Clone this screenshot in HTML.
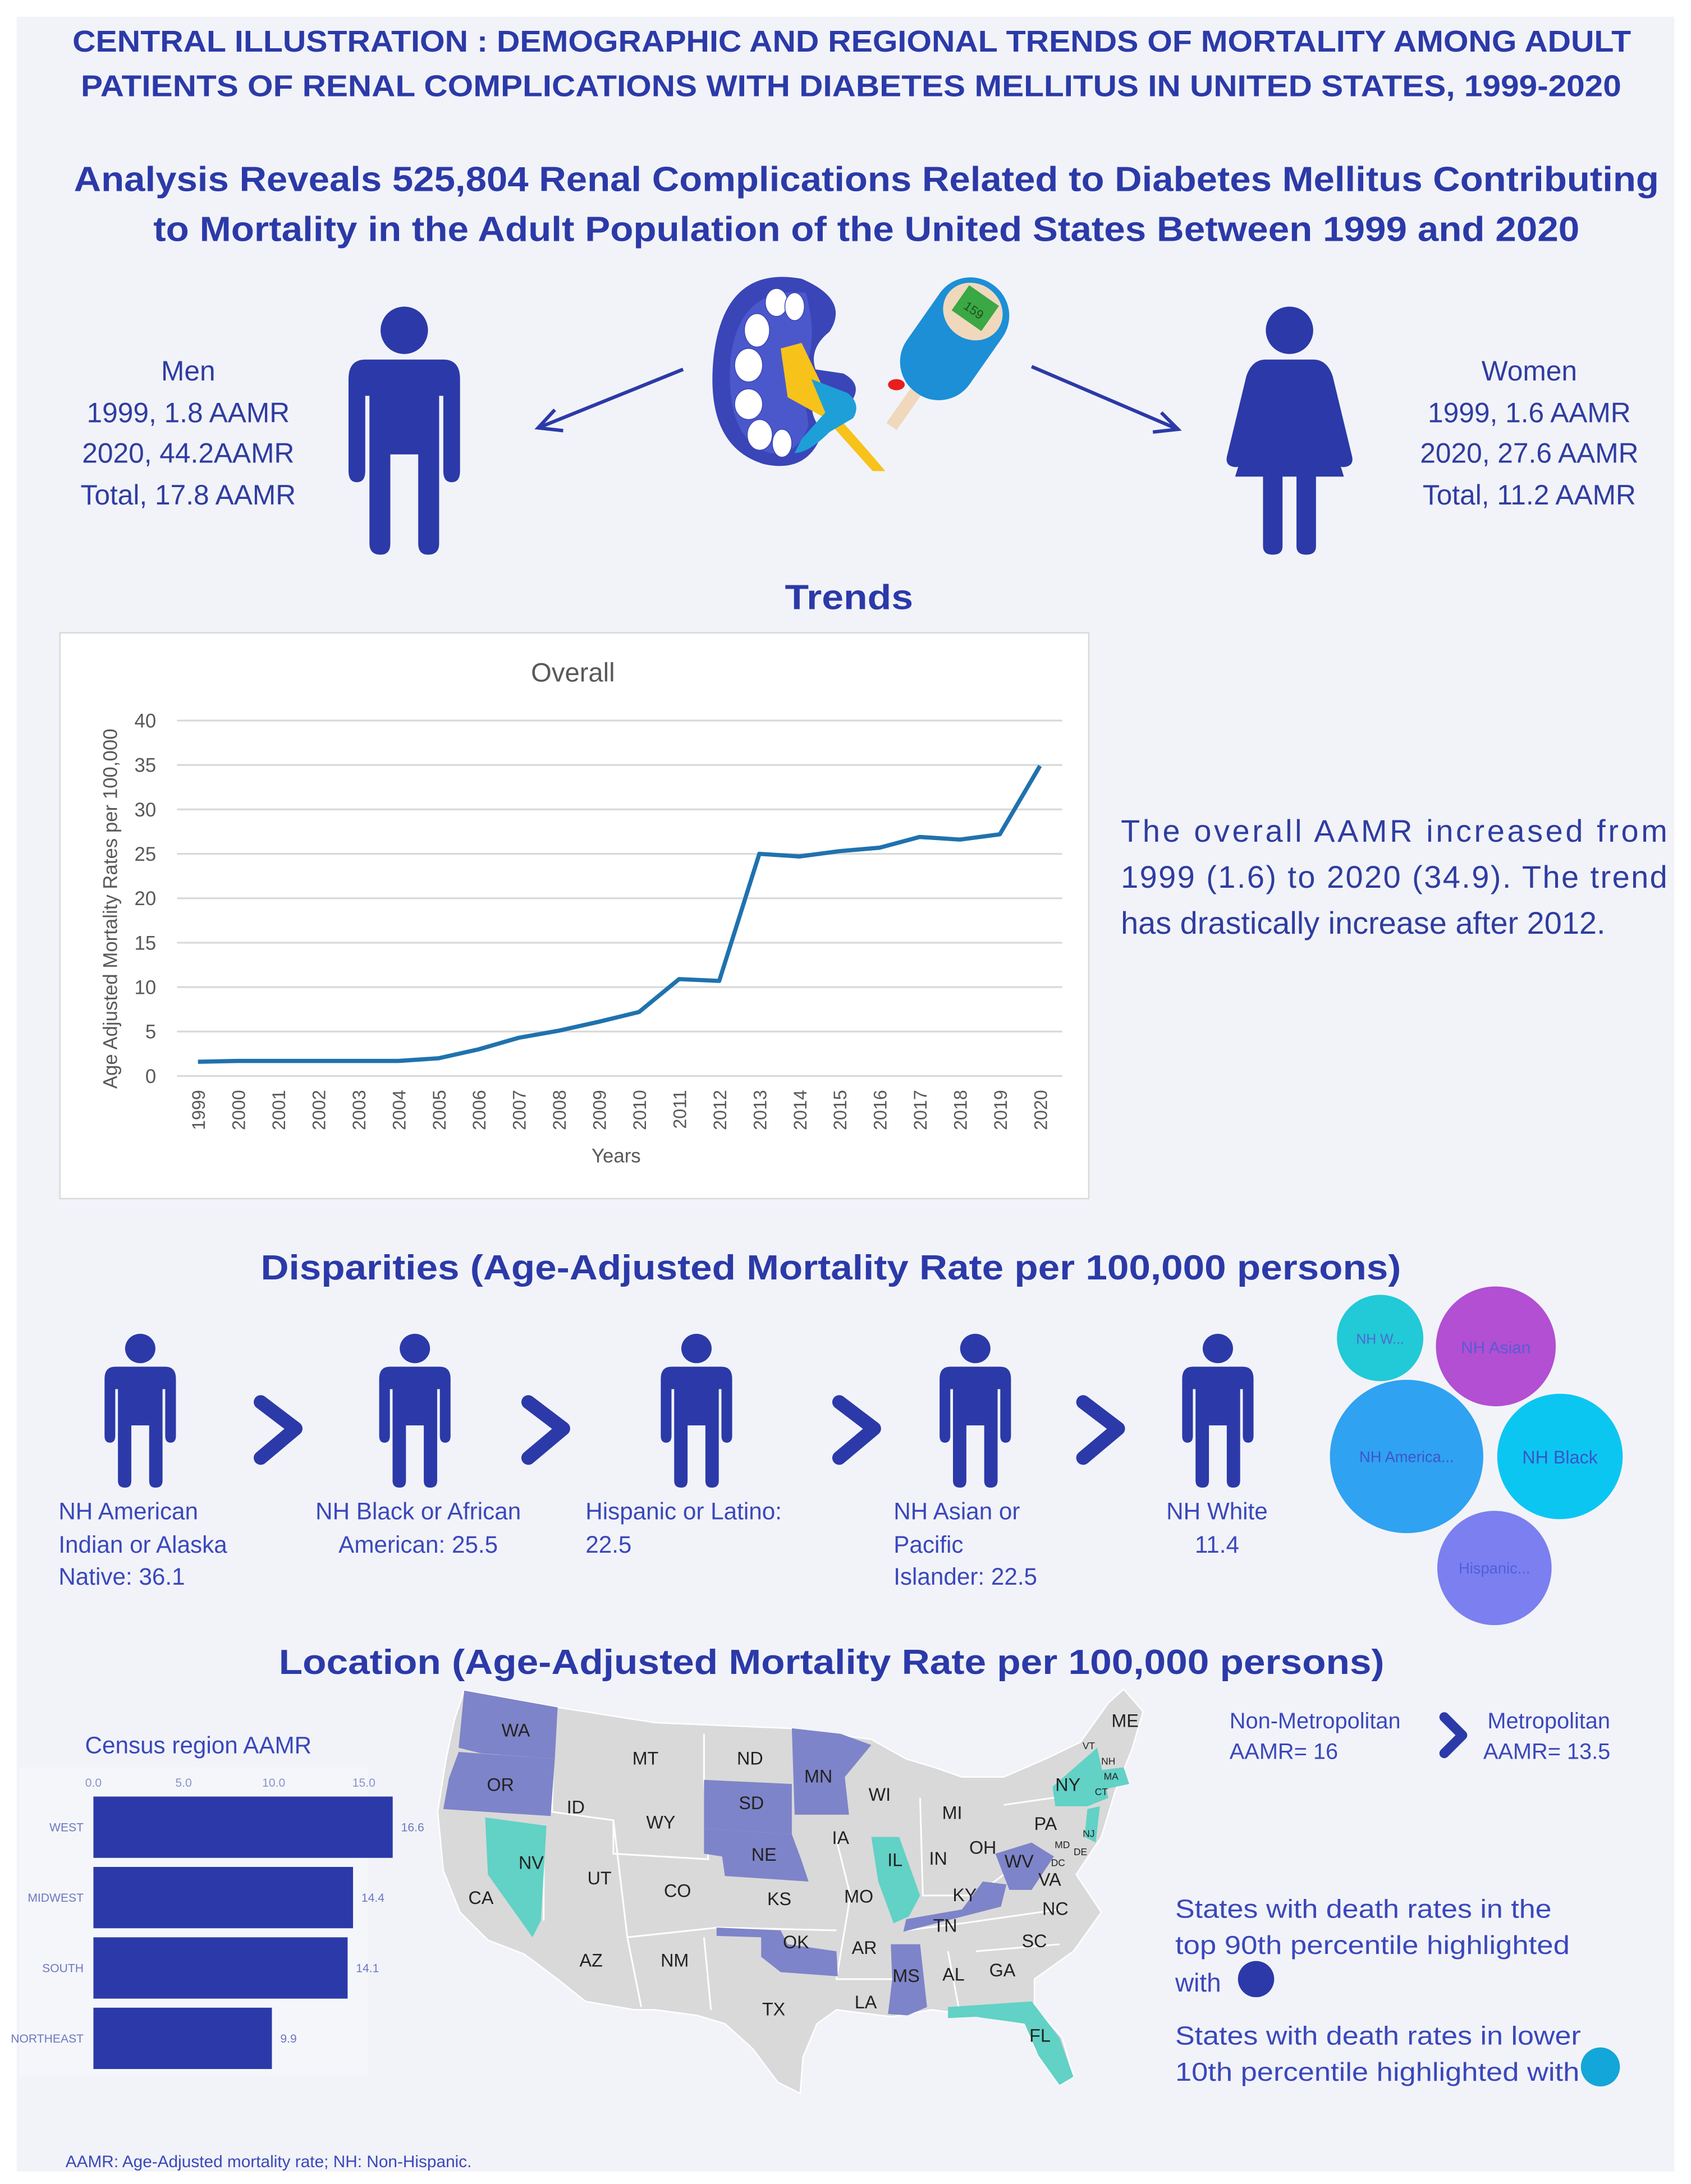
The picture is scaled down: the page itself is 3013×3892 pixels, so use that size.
<!DOCTYPE html>
<html><head><meta charset="utf-8"><style>
html,body{margin:0;padding:0;background:#fff;}
svg{display:block;font-family:"Liberation Sans",sans-serif;}
</style></head><body>
<svg id="page" width="3013" height="3892" viewBox="0 0 1213 1567" preserveAspectRatio="none" xmlns="http://www.w3.org/2000/svg">
<rect x="0" y="0" width="1213" height="1567" fill="#ffffff"/>
<rect x="12" y="12" width="1189" height="1546" fill="#f2f3f9"/>

<g fill="#2b3aa8" font-weight="bold" font-size="21.5">
<text x="52" y="37" textLength="1118" lengthAdjust="spacingAndGlyphs">CENTRAL ILLUSTRATION : DEMOGRAPHIC AND REGIONAL TRENDS OF MORTALITY AMONG ADULT</text>
<text x="58" y="69" textLength="1105" lengthAdjust="spacingAndGlyphs">PATIENTS OF RENAL COMPLICATIONS WITH DIABETES MELLITUS IN UNITED STATES, 1999-2020</text>
</g>
<g fill="#2b3aa8" font-weight="bold" font-size="25">
<text x="53" y="137" textLength="1137" lengthAdjust="spacingAndGlyphs">Analysis Reveals 525,804 Renal Complications Related to Diabetes Mellitus Contributing</text>
<text x="110" y="173" textLength="1023" lengthAdjust="spacingAndGlyphs">to Mortality in the Adult Population of the United States Between 1999 and 2020</text>
</g>

<g fill="#2f3da0" font-size="20" text-anchor="middle">
<text x="135" y="273">Men</text><text x="135" y="303">1999, 1.8 AAMR</text><text x="135" y="332">2020,  44.2AAMR</text><text x="135" y="362">Total, 17.8 AAMR</text>
</g>
<g fill="#2f3da0" font-size="20" text-anchor="middle">
<text x="1097" y="273">Women</text><text x="1097" y="303">1999, 1.6 AAMR</text><text x="1097" y="332">2020, 27.6 AAMR</text><text x="1097" y="362">Total, 11.2 AAMR</text>
</g>

<g fill="#2b3aa8" transform="translate(250,220)">
<circle cx="40" cy="17" r="17"/>
<path d="M12,38 H68 Q80,38 80,52 V118 Q80,126 74,126 Q68,126 68,118 V64 H65 V170 Q65,178 57,178 Q50,178 50,170 V106 H30 V170 Q30,178 23,178 Q15,178 15,170 V64 H12 V118 Q12,126 6,126 Q0,126 0,118 V52 Q0,38 12,38 Z"/>
</g>
<g fill="#2b3aa8" transform="translate(880,220)">
<circle cx="45" cy="17" r="17"/>
<path d="M28,38 H62 Q72,38 76,50 L90,108 Q91,114 85,115 Q80,116 78,110 L68,70 L84,122 H64 V172 Q64,178 57,178 Q50,178 50,172 V122 H40 V172 Q40,178 33,178 Q26,178 26,172 V122 H6 L22,70 L12,110 Q10,116 5,115 Q-1,114 0,108 L14,50 Q18,38 28,38 Z"/>
</g>

<g stroke="#2b3aa8" stroke-width="2.5" fill="none">
<line x1="490" y1="265" x2="386" y2="307"/><polyline points="398,294 386,307 404,309"/>
</g>
<g stroke="#2b3aa8" stroke-width="2.5" fill="none">
<line x1="740" y1="263" x2="845" y2="308"/><polyline points="827,310 845,308 833,296"/>
</g>

<g>
<path d="M575,200 Q520,190 512,255 Q505,320 548,333 Q580,340 590,310 Q575,290 590,280 L612,286 Q618,275 605,268 L585,265 Q580,250 595,238 Q610,215 575,200 Z" fill="#3a45b8"/>
<path d="M578,210 Q530,205 524,258 Q520,315 552,325 Q572,328 580,305 L575,270 Q588,245 578,210 Z" fill="#4a58cc"/>
<g fill="#ffffff" stroke="#3a45b8" stroke-width="0.6">
<ellipse cx="557" cy="217" rx="8" ry="10"/><ellipse cx="570" cy="220" rx="7" ry="10"/>
<ellipse cx="543" cy="237" rx="9" ry="12"/><ellipse cx="537" cy="262" rx="10" ry="12"/>
<ellipse cx="537" cy="290" rx="10" ry="11"/><ellipse cx="545" cy="312" rx="9" ry="11"/><ellipse cx="561" cy="318" rx="7" ry="10"/>
</g>
<path d="M560,250 L575,246 L600,298 Q620,320 635,338 L626,338 Q608,318 592,300 L565,285 Z" fill="#f7c21a"/>
<path d="M582,272 L608,282 Q618,290 612,300 L595,310 Q580,325 570,325 L575,315 L592,296 Z" fill="#1e9fd8"/>
<g transform="rotate(35 690 240)">
<rect x="660" y="198" width="55" height="95" rx="27" fill="#1c8fd6"/>
<ellipse cx="687" cy="222" rx="22" ry="20" fill="#f0d8bd"/>
<rect x="674" y="208" width="26" height="22" fill="#3aa844"/>
<text x="687" y="224" font-size="9" text-anchor="middle" fill="#1f4f20">159</text>
<rect x="682" y="293" width="9" height="30" fill="#f0d8bd"/>
</g>
<ellipse cx="643" cy="276" rx="6" ry="4" fill="#e81e1e"/>
</g>

<text x="563" y="437" textLength="92" lengthAdjust="spacingAndGlyphs" font-size="25" font-weight="bold" fill="#2b3aa8">Trends</text>

<g id="chart">
<rect x="43" y="454" width="738" height="406" fill="#ffffff" stroke="#d9d9d9" stroke-width="1"/>
<text x="411" y="489" text-anchor="middle" font-size="19" fill="#595959">Overall</text>
<text transform="translate(84,652) rotate(-90)" text-anchor="middle" font-size="14" fill="#595959">Age Adjusted Mortality Rates per 100,000</text>
<text x="442" y="834" text-anchor="middle" font-size="14" fill="#595959">Years</text>
<g id="grid"></g><g id="ylabels"></g><g id="xlabels"></g><g id="series"></g>
</g>

<g fill="#2f3da0" font-size="22.5">
<text x="804" y="604" textLength="392" lengthAdjust="spacing">The overall AAMR increased from</text>
<text x="804" y="637" textLength="392" lengthAdjust="spacing">1999 (1.6) to 2020 (34.9). The trend</text>
<text x="804" y="670">has drastically increase after 2012.</text>
</g>

<text x="187" y="918" textLength="818" lengthAdjust="spacingAndGlyphs" font-size="25" font-weight="bold" fill="#2b3aa8">Disparities (Age-Adjusted Mortality Rate per 100,000 persons)</text>

<g fill="#2b3aa8">
<g transform="translate(75,957) scale(0.64,0.62)"><circle cx="40" cy="17" r="17"/><path d="M12,38 H68 Q80,38 80,52 V118 Q80,126 74,126 Q68,126 68,118 V64 H65 V170 Q65,178 57,178 Q50,178 50,170 V106 H30 V170 Q30,178 23,178 Q15,178 15,170 V64 H12 V118 Q12,126 6,126 Q0,126 0,118 V52 Q0,38 12,38 Z"/></g>
<g transform="translate(272,957) scale(0.64,0.62)"><circle cx="40" cy="17" r="17"/><path d="M12,38 H68 Q80,38 80,52 V118 Q80,126 74,126 Q68,126 68,118 V64 H65 V170 Q65,178 57,178 Q50,178 50,170 V106 H30 V170 Q30,178 23,178 Q15,178 15,170 V64 H12 V118 Q12,126 6,126 Q0,126 0,118 V52 Q0,38 12,38 Z"/></g>
<g transform="translate(474,957) scale(0.64,0.62)"><circle cx="40" cy="17" r="17"/><path d="M12,38 H68 Q80,38 80,52 V118 Q80,126 74,126 Q68,126 68,118 V64 H65 V170 Q65,178 57,178 Q50,178 50,170 V106 H30 V170 Q30,178 23,178 Q15,178 15,170 V64 H12 V118 Q12,126 6,126 Q0,126 0,118 V52 Q0,38 12,38 Z"/></g>
<g transform="translate(674,957) scale(0.64,0.62)"><circle cx="40" cy="17" r="17"/><path d="M12,38 H68 Q80,38 80,52 V118 Q80,126 74,126 Q68,126 68,118 V64 H65 V170 Q65,178 57,178 Q50,178 50,170 V106 H30 V170 Q30,178 23,178 Q15,178 15,170 V64 H12 V118 Q12,126 6,126 Q0,126 0,118 V52 Q0,38 12,38 Z"/></g>
<g transform="translate(848,957) scale(0.64,0.62)"><circle cx="40" cy="17" r="17"/><path d="M12,38 H68 Q80,38 80,52 V118 Q80,126 74,126 Q68,126 68,118 V64 H65 V170 Q65,178 57,178 Q50,178 50,170 V106 H30 V170 Q30,178 23,178 Q15,178 15,170 V64 H12 V118 Q12,126 6,126 Q0,126 0,118 V52 Q0,38 12,38 Z"/></g>
</g>
<g fill="none" stroke="#2b3aa8" stroke-width="10" stroke-linecap="round" stroke-linejoin="round">
<polyline points="187,1006 212,1025 187,1046"/><polyline points="379,1006 404,1025 379,1046"/>
<polyline points="602,1006 627,1025 602,1046"/><polyline points="777,1006 802,1025 777,1046"/>
</g>
<g fill="#3a48bb" font-size="17">
<text x="42" y="1090">NH American</text><text x="42" y="1114">Indian or Alaska</text><text x="42" y="1137">Native: 36.1</text>
<text x="300" y="1090" text-anchor="middle">NH Black or African</text><text x="300" y="1114" text-anchor="middle">American: 25.5</text>
<text x="420" y="1090">Hispanic or Latino:</text><text x="420" y="1114">22.5</text>
<text x="641" y="1090">NH Asian or</text><text x="641" y="1114">Pacific</text><text x="641" y="1137">Islander: 22.5</text>
<text x="873" y="1090" text-anchor="middle">NH White</text><text x="873" y="1114" text-anchor="middle">11.4</text>
</g>
<g font-size="12" text-anchor="middle">
<circle cx="990" cy="960" r="31" fill="#22c9d6"/><text x="990" y="964" fill="#4c6ad0" font-size="10">NH W...</text>
<circle cx="1073" cy="966" r="43" fill="#b24fd2"/><text x="1073" y="971" fill="#5a5ad6">NH Asian</text>
<circle cx="1009" cy="1045" r="55" fill="#2fa2f2"/><text x="1009" y="1049" fill="#3f55c8" font-size="11">NH America...</text>
<circle cx="1119" cy="1045" r="45" fill="#0cc6f2"/><text x="1119" y="1050" fill="#3a55c8" font-size="13">NH Black</text>
<circle cx="1072" cy="1125" r="41" fill="#7b7ff0"/><text x="1072" y="1129" fill="#5060d8" font-size="11">Hispanic...</text>
</g>

<text x="200" y="1201" textLength="793" lengthAdjust="spacingAndGlyphs" font-size="25" font-weight="bold" fill="#2b3aa8">Location (Age-Adjusted Mortality Rate per 100,000 persons)</text>

<g>
<rect x="14" y="1268" width="250" height="222" fill="#f5f6fa"/>
<text x="61" y="1258" font-size="17" fill="#3a48bb">Census region AAMR</text>
<g id="barticks"></g><g id="bars"></g>
</g>

<g>
<polygon fill="#d9d9d9" stroke="#ffffff" stroke-width="1" points="333,1213 400,1225 470,1236 565,1240 625,1248 650,1262 670,1268 690,1275 720,1275 750,1262 775,1250 795,1222 806,1212 820,1228 812,1255 800,1285 790,1318 772,1345 790,1372 770,1400 742,1420 742,1440 762,1462 770,1490 760,1496 745,1475 735,1452 700,1446 668,1442 640,1447 600,1442 586,1452 576,1476 574,1502 558,1494 540,1470 520,1452 500,1446 470,1442 455,1442 420,1436 400,1420 376,1402 350,1392 330,1372 318,1342 314,1300 320,1262 326,1234"/>
<g stroke="#ffffff" stroke-width="1.2" fill="none">
<polyline points="398,1226 396,1300 440,1306 440,1330 508,1334 505,1277 505,1244"/>
<polyline points="390,1310 390,1378"/><polyline points="440,1306 450,1390 515,1383 600,1385"/>
<polyline points="450,1390 460,1440"/><polyline points="505,1390 510,1442"/>
<polyline points="600,1320 610,1360 600,1420 640,1420"/><polyline points="660,1290 662,1360 700,1360 740,1330"/>
<polyline points="650,1385 690,1380 760,1370"/><polyline points="680,1400 688,1442"/><polyline points="700,1400 760,1395"/>
<polyline points="720,1295 790,1285"/>
</g>
<g fill="#7e84c9">
<polygon points="333,1213 400,1225 398,1262 345,1258 329,1254"/>
<polygon points="329,1257 398,1262 395,1303 318,1298 322,1276"/>
<polygon points="568,1240 603,1244 625,1252 606,1275 609,1302 570,1302"/>
<polygon points="505,1277 568,1280 568,1316 505,1312"/>
<polygon points="505,1312 568,1316 575,1335 580,1350 520,1346 518,1332 505,1330"/>
<polygon points="650,1377 690,1370 705,1350 722,1352 718,1368 648,1386"/>
<polygon points="714,1330 740,1322 756,1332 740,1356 724,1356"/>
<polygon points="514,1383 560,1385 565,1395 600,1400 601,1418 560,1415 546,1404 546,1390 514,1389"/>
<polygon points="639,1395 660,1395 665,1440 651,1446 637,1445 640,1420"/>
</g>
<g fill="#62d1c6">
<polygon points="348,1304 392,1310 388,1378 382,1390 350,1345"/>
<polygon points="625,1318 645,1318 660,1360 652,1375 641,1380 630,1350"/>
<polygon points="755,1282 787,1254 795,1290 780,1296 757,1296"/>
<polygon points="790,1270 806,1268 810,1280 791,1284"/>
<polygon points="780,1298 789,1296 786,1322 778,1318"/>
<polygon points="680,1440 740,1436 760,1462 770,1490 760,1496 745,1475 735,1452 700,1447 680,1448"/>
</g>
<g font-size="13" text-anchor="middle" fill="#222">
<text x="370" y="1246">WA</text><text x="359" y="1285">OR</text><text x="413" y="1301">ID</text><text x="463" y="1266">MT</text><text x="538" y="1266">ND</text><text x="587" y="1279">MN</text><text x="631" y="1292">WI</text><text x="539" y="1298">SD</text><text x="474" y="1312">WY</text><text x="548" y="1335">NE</text><text x="603" y="1323">IA</text><text x="683" y="1305">MI</text><text x="766" y="1285">NY</text><text x="750" y="1313">PA</text><text x="705" y="1330">OH</text><text x="673" y="1338">IN</text><text x="642" y="1339">IL</text><text x="381" y="1341">NV</text><text x="430" y="1352">UT</text><text x="486" y="1361">CO</text><text x="559" y="1367">KS</text><text x="616" y="1365">MO</text><text x="731" y="1340">WV</text><text x="753" y="1353">VA</text><text x="692" y="1364">KY</text><text x="757" y="1374">NC</text><text x="345" y="1366">CA</text><text x="678" y="1386">TN</text><text x="571" y="1398">OK</text><text x="620" y="1402">AR</text><text x="742" y="1397">SC</text><text x="424" y="1411">AZ</text><text x="484" y="1411">NM</text><text x="650" y="1422">MS</text><text x="684" y="1421">AL</text><text x="719" y="1418">GA</text><text x="621" y="1441">LA</text><text x="555" y="1446">TX</text><text x="746" y="1465">FL</text><text x="807" y="1239">ME</text>
<g font-size="7"><text x="781" y="1255">VT</text><text x="795" y="1266">NH</text><text x="797" y="1277">MA</text><text x="790" y="1288">CT</text><text x="781" y="1318">NJ</text><text x="762" y="1326">MD</text><text x="775" y="1331">DE</text><text x="759" y="1339">DC</text></g>
</g>
</g>

<g fill="#3a48bb" font-size="16">
<text x="882" y="1240">Non-Metropolitan</text><text x="882" y="1262">AAMR= 16</text>
<polyline points="1036,1232 1049,1245 1036,1258" fill="none" stroke="#2b3aa8" stroke-width="7" stroke-linecap="round" stroke-linejoin="round"/>
<text x="1067" y="1240">Metropolitan</text><text x="1064" y="1262">AAMR= 13.5</text>
</g>
<g fill="#3a48bb" font-size="18.5">
<text x="843" y="1376" textLength="270" lengthAdjust="spacingAndGlyphs">States with death rates in the</text><text x="843" y="1402" textLength="283" lengthAdjust="spacingAndGlyphs">top 90th percentile highlighted</text><text x="843" y="1429">with</text>
<circle cx="901" cy="1420" r="13" fill="#2b3aa8"/>
<text x="843" y="1467" textLength="291" lengthAdjust="spacingAndGlyphs">States with death rates in lower</text><text x="843" y="1493" textLength="290" lengthAdjust="spacingAndGlyphs">10th percentile highlighted with</text>
<circle cx="1148" cy="1483" r="14" fill="#13a6d8"/>
</g>
<text x="47" y="1555" font-size="12" fill="#3a48bb">AAMR: Age-Adjusted mortality rate; NH: Non-Hispanic.</text>
</svg>
<script>
const NS = 'http://www.w3.org/2000/svg';
const years = ['1999','2000','2001','2002','2003','2004','2005','2006','2007','2008','2009','2010','2011','2012','2013','2014','2015','2016','2017','2018','2019','2020'];
const aamr = [1.6,1.7,1.7,1.7,1.7,1.7,2.0,3.0,4.3,5.1,6.1,7.2,10.9,10.7,25.0,24.7,25.3,25.7,26.9,26.6,27.2,34.9];
const yTicks = [0,5,10,15,20,25,30,35,40];
const regions = ['WEST','MIDWEST','SOUTH','NORTHEAST'];
const regionValues = [16.6,14.4,14.1,9.9];
const barTicks = [0,5,10,15];

function mk(tag, attrs, parent, text) {
  const e = document.createElementNS(NS, tag);
  for (const k in attrs) e.setAttribute(k, attrs[k]);
  if (text !== undefined) e.textContent = text;
  parent.appendChild(e);
  return e;
}
const xS = i => 142 + i * (746 - 142) / (years.length - 1);
const yS = v => 772 - v * (772 - 517) / 40;
const grid = document.getElementById('grid'), yl = document.getElementById('ylabels'), xl = document.getElementById('xlabels'), ser = document.getElementById('series');
yTicks.forEach(t => {
  const l = mk('line', {x1:127, x2:762, y1:yS(t), y2:yS(t), stroke:'#d9d9d9', 'stroke-width':1.3}, grid);
  
  
  const tx = mk('text', {x:112, y:yS(t)+5, 'text-anchor':'end', 'font-size':14, fill:'#595959'}, yl, String(t));
  
  
});
years.forEach((yr, i) => {
  const tx = mk('text', {transform:'translate(' + (xS(i)+5) + ',782) rotate(-90)', 'text-anchor':'end', 'font-size':13, fill:'#595959'}, xl, yr);
  
  
});
const d = aamr.map((v, i) => (i ? 'L' : 'M') + xS(i).toFixed(1) + ',' + yS(v).toFixed(1)).join(' ');
const p = mk('path', {d:d, fill:'none', stroke:'#1f72ae', 'stroke-width':3, 'stroke-linejoin':'round'}, ser);



const bx = v => 67 + v * (261 - 67) / 15;
const byTop = i => 1289 + i * 50.5;
const bt = document.getElementById('barticks'), bs = document.getElementById('bars');
barTicks.forEach(t => {
  const tx = mk('text', {x:bx(t), y:1282, 'text-anchor':'middle', 'font-size':8.5, fill:'#8a93c8'}, bt, t.toFixed(1));
  
  
});
regions.forEach((r, i) => {
  const rc = mk('rect', {x:bx(0), y:byTop(i), width:bx(regionValues[i]) - bx(0), height:44, fill:'#2b3aa8'}, bs);
  
  
  const lb = mk('text', {x:60, y:byTop(i)+25, 'text-anchor':'end', 'font-size':8.5, fill:'#6b78c0'}, bs, r);
  
  
  const vl = mk('text', {x:bx(regionValues[i]) + 6, y:byTop(i)+25, 'font-size':8.5, fill:'#6b78c0'}, bs, regionValues[i].toFixed(1));
  
  
});
</script>
</body></html>
